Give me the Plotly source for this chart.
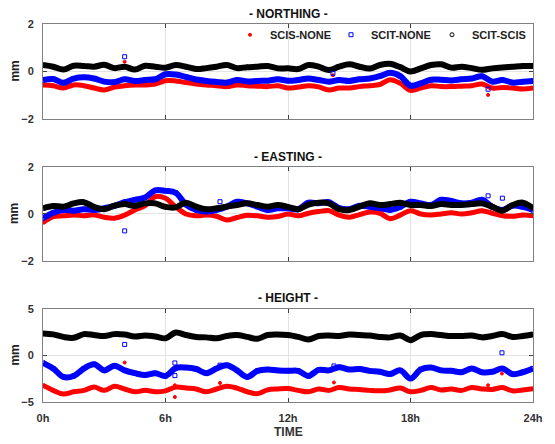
import plotly.graph_objects as go

# ---------------- data (30-min steps) ----------------
hours = [i * 0.5 for i in range(49)]

north_scis_none = [-0.57,-0.6,-0.7,-0.57,-0.6,-0.7,-0.78,-0.66,-0.6,-0.57,-0.57,-0.53,-0.39,-0.4,-0.47,-0.53,
                   -0.57,-0.6,-0.64,-0.57,-0.6,-0.62,-0.64,-0.6,-0.7,-0.66,-0.6,-0.65,-0.78,-0.7,-0.7,-0.64,
                   -0.6,-0.55,-0.35,-0.5,-0.8,-0.7,-0.6,-0.64,-0.64,-0.62,-0.6,-0.53,-0.7,-0.68,-0.7,-0.74,-0.7]
north_scit_none = [-0.36,-0.32,-0.48,-0.3,-0.25,-0.3,-0.43,-0.45,-0.33,-0.4,-0.36,-0.33,-0.12,-0.13,-0.23,-0.34,
                   -0.4,-0.44,-0.47,-0.36,-0.42,-0.4,-0.39,-0.33,-0.39,-0.36,-0.3,-0.36,-0.43,-0.36,-0.4,-0.33,
                   -0.3,-0.2,-0.06,-0.2,-0.6,-0.5,-0.35,-0.35,-0.38,-0.33,-0.3,-0.2,-0.43,-0.36,-0.47,-0.43,-0.4]
north_scit_scis = [0.27,0.2,0.08,0.24,0.23,0.2,0.28,0.14,0.2,0.08,0.24,0.2,0.16,0.27,0.2,0.1,
                   0.14,0.2,0.27,0.14,0.18,0.2,0.23,0.13,0.13,0.1,0.27,0.2,0.06,0.2,0.3,0.2,
                   0.12,0.27,0.32,0.18,0.0,0.13,0.27,0.3,0.16,0.2,0.14,0.07,0.13,0.17,0.2,0.23,0.23]

east_scis_none = [-0.37,-0.11,-0.08,-0.04,-0.08,-0.04,-0.14,-0.18,-0.05,0.17,0.35,0.74,0.67,0.3,0.0,-0.08,
                  -0.05,-0.1,-0.26,-0.15,-0.06,-0.08,-0.14,-0.11,0.0,-0.08,0.03,0.1,0.14,-0.05,-0.14,-0.03,
                  0.08,0.03,-0.2,-0.05,0.14,0.0,-0.04,0.0,0.05,0.0,0.05,0.14,0.03,-0.08,-0.1,-0.05,-0.08]
east_scit_none = [-0.18,0.05,0.17,0.14,0.2,0.17,0.24,0.34,0.5,0.6,0.7,1.0,0.98,0.9,0.4,0.17,
                  0.1,0.17,0.31,0.52,0.45,0.31,0.17,0.24,0.24,0.2,0.48,0.45,0.5,0.25,0.2,0.35,
                  0.31,0.25,0.17,0.3,0.52,0.45,0.38,0.6,0.55,0.45,0.48,0.6,0.3,0.17,0.35,0.3,0.17]
east_scit_scis = [0.24,0.34,0.31,0.45,0.5,0.3,0.2,0.35,0.42,0.34,0.45,0.45,0.3,0.28,0.48,0.31,
                  0.2,0.24,0.31,0.38,0.45,0.38,0.31,0.38,0.3,0.2,0.4,0.48,0.45,0.2,0.17,0.31,
                  0.45,0.38,0.42,0.48,0.38,0.38,0.34,0.42,0.38,0.38,0.42,0.45,0.31,0.14,0.38,0.48,0.24]

height_scis_none = [-3.2,-3.75,-4.15,-3.9,-3.75,-3.4,-3.75,-3.3,-3.6,-3.9,-3.75,-3.9,-3.8,-3.4,-3.5,-3.6,
                    -3.9,-3.6,-3.3,-3.5,-3.9,-4.1,-3.7,-3.6,-3.56,-3.75,-3.9,-3.6,-3.75,-3.45,-3.6,-3.65,
                    -3.75,-3.8,-3.7,-3.5,-3.9,-3.75,-3.45,-3.7,-3.6,-3.75,-3.45,-3.6,-3.65,-3.45,-3.8,-3.7,-3.56]
height_scit_none = [-0.8,-1.4,-2.3,-2.2,-1.4,-0.94,-1.6,-1.1,-1.6,-1.9,-2.1,-1.9,-2.2,-1.35,-1.3,-1.45,
                    -1.9,-1.4,-1.04,-1.6,-2.3,-1.65,-1.5,-1.6,-1.65,-1.65,-2.2,-1.55,-1.6,-1.25,-1.5,-1.45,
                    -1.65,-1.75,-2.0,-1.6,-2.48,-1.5,-1.3,-1.6,-1.65,-1.8,-1.4,-1.8,-1.75,-1.4,-2.0,-1.8,-1.4]
height_scit_scis = [2.37,2.27,2.0,1.9,2.3,2.2,2.1,2.3,2.25,2.05,2.15,2.05,1.85,2.48,2.2,2.0,
                    1.95,1.85,2.1,2.2,2.0,1.8,2.2,2.25,2.2,2.0,1.73,2.1,2.15,2.1,2.25,2.2,
                    2.15,2.0,1.95,2.15,1.65,2.2,2.3,2.2,2.1,2.1,2.15,1.95,2.1,2.3,2.0,2.1,2.27]

# isolated outlier epochs
north_out_t = [4.0, 14.2, 21.8]
north_out_red = [0.41, -0.16, -0.99]
north_out_blue = [0.62, -0.08, -0.75]
east_out_blue_t = [4.0, 8.67, 21.8, 22.5]
east_out_blue = [-0.72, 0.52, 0.77, 0.67]
height_out_blue_t = [4.0, 6.46, 6.46, 8.67, 14.25, 22.48]
height_out_blue = [1.19, -0.8, -2.16, -1.04, -1.12, 0.29]
height_out_red_t = [4.0, 6.46, 6.46, 8.67, 14.25, 22.48, 21.8]
height_out_red = [-0.76, -3.2, -4.46, -2.95, -2.9, -1.94, -3.2]

series_names = ["SCIS-NONE", "SCIT-NONE", "SCIT-SCIS"]
panel_titles = ["- NORTHING -", "- EASTING -", "- HEIGHT -"]
x_tickvals = [0, 6, 12, 18, 24]
x_ticktext = ["0h", "6h", "12h", "18h", "24h"]

# ---------------- styling ----------------
colors = ["#ff0000", "#0000ff", "#000000"]
symbols = ["circle", "square-open", "circle-open"]
msizes = [3, 4, 4]
band_w = [5, 6, 6]
FONT = "Liberation Sans, Arial, sans-serif"

fig = go.Figure()

panels = [
    ([north_scis_none, north_scit_none, north_scit_scis], "x", "y"),
    ([east_scis_none, east_scit_none, east_scit_scis], "x2", "y2"),
    ([height_scis_none, height_scit_none, height_scit_scis], "x3", "y3"),
]

for p, (vals, xa, ya) in enumerate(panels):
    for k in range(3):
        fig.add_trace(go.Scatter(x=hours, y=vals[k], mode="lines", xaxis=xa, yaxis=ya,
                                 line=dict(color=colors[k], width=band_w[k], shape="spline"),
                                 showlegend=False, hoverinfo="skip"))
        fig.add_trace(go.Scatter(x=hours, y=vals[k], mode="markers", xaxis=xa, yaxis=ya,
                                 name=series_names[k], legendgroup=series_names[k],
                                 showlegend=(p == 0),
                                 marker=dict(color=colors[k], symbol=symbols[k], size=msizes[k],
                                             line=dict(color=colors[k], width=1))))

def outliers(t, v, k, xa, ya):
    fig.add_trace(go.Scatter(x=t, y=v, mode="markers", xaxis=xa, yaxis=ya, showlegend=False,
                             marker=dict(color=colors[k], symbol=symbols[k], size=msizes[k],
                                         line=dict(color=colors[k], width=1))))

outliers(north_out_t, north_out_red, 0, "x", "y")
outliers(north_out_t, north_out_blue, 1, "x", "y")
outliers(east_out_blue_t, east_out_blue, 1, "x2", "y2")
outliers(height_out_red_t, height_out_red, 0, "x3", "y3")
outliers(height_out_blue_t, height_out_blue, 1, "x3", "y3")

# plot area spans pixel rows 24..402
domains = [[0.749, 1.0], [0.373, 0.622], [0.0, 0.246]]
yranges = [[-2, 2], [-2, 2], [-5, 5]]
ytickvals = [[-2, 0, 2], [-2, 0, 2], [-5, 0, 5]]

axis_common = dict(showline=True, linecolor="#808080", linewidth=1, mirror="ticks",
                   ticks="inside", ticklen=4, tickcolor="#404040",
                   showgrid=True, gridcolor="#e3e3e3", gridwidth=1, zeroline=False,
                   tickfont=dict(family=FONT, size=11, color="#333333", weight="bold"))

layout = dict(width=555, height=444, plot_bgcolor="white", paper_bgcolor="white",
              margin=dict(l=43, r=22, t=24, b=42),
              font=dict(family=FONT),
              legend=dict(orientation="h", x=1.0, xanchor="right", y=1.01, yanchor="top",
                          bgcolor="rgba(0,0,0,0)", font=dict(family=FONT, size=11, color="#222222", weight="bold"),
                          itemsizing="trace", tracegroupgap=0, entrywidth=56,
                          entrywidthmode="pixels"))
for i in range(3):
    sfx = "" if i == 0 else str(i + 1)
    layout["xaxis" + sfx] = dict(axis_common, domain=[0, 1], range=[0, 24], anchor="y" + sfx,
                                 tickvals=x_tickvals, ticktext=x_ticktext,
                                 showticklabels=(i == 2), ticklabelstandoff=6)
    layout["yaxis" + sfx] = dict(axis_common, domain=domains[i], range=yranges[i], anchor="x" + sfx,
                                 tickvals=ytickvals[i], ticklabelstandoff=6)
fig.update_layout(**layout)

ann = []
title_y = [1.026, 0.648, 0.275]
mm_y = [(402 - 71.5) / 378, (402 - 214) / 378, (402 - 355.5) / 378]
for i in range(3):
    ann.append(dict(text=panel_titles[i], x=0.5, y=title_y[i], xref="paper", yref="paper",
                    showarrow=False, xanchor="center", yanchor="middle",
                    font=dict(family=FONT, size=12, color="#111111", weight="bold")))
    ann.append(dict(text="mm", x=-0.059, y=mm_y[i], xref="paper", yref="paper", textangle=-90,
                    showarrow=False, xanchor="center", yanchor="middle",
                    font=dict(family=FONT, size=12, color="#222222", weight="bold")))
ann.append(dict(text="TIME", x=0.5, y=-0.079, xref="paper", yref="paper", showarrow=False,
                xanchor="center", yanchor="middle",
                font=dict(family=FONT, size=12, color="#333333", weight="bold")))
fig.update_layout(annotations=ann)

fig.write_html("out.html")
